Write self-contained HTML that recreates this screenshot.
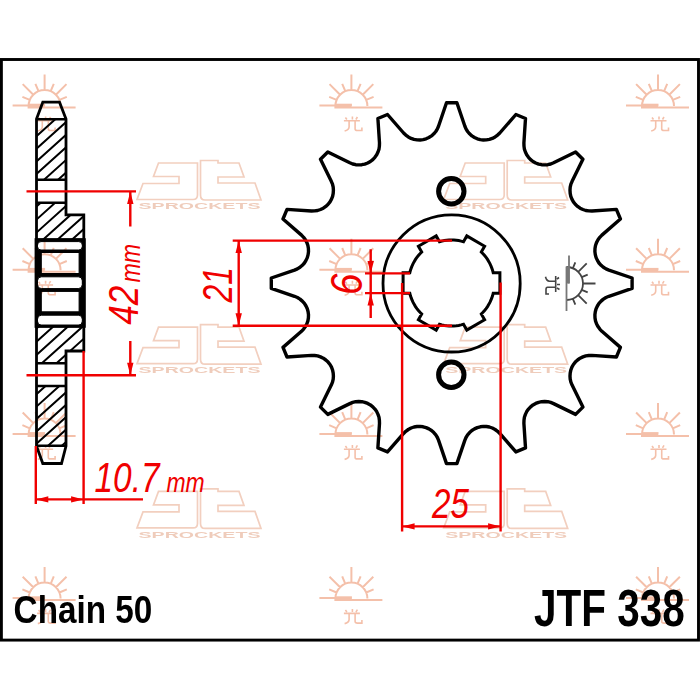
<!DOCTYPE html>
<html><head><meta charset="utf-8"><style>html,body{margin:0;padding:0;background:#fff;width:700px;height:700px;overflow:hidden}svg{display:block}</style></head>
<body><svg width="700" height="700" viewBox="0 0 700 700">
<defs><clipPath id="hc0"><rect x="36.5" y="119.3" width="29.5" height="60.5"/></clipPath><clipPath id="hc1"><rect x="36.5" y="202.8" width="29.5" height="37.2"/><rect x="66" y="214.8" width="17.8" height="25.2"/></clipPath><clipPath id="hc2"><rect x="36.5" y="326" width="29.5" height="37.2"/><rect x="66" y="326" width="17.8" height="25"/></clipPath><clipPath id="hc3"><rect x="36.5" y="386" width="29.5" height="59.8"/></clipPath></defs>
<rect width="700" height="700" fill="#fff"/>
<rect x="1.4" y="59.5" width="697.1" height="580.6" fill="#fff" stroke="#000" stroke-width="2.9"/>
<g id="profile" stroke="#000" fill="none">
<path d="M35 137.5L86 91.6 M35 150.1L86 104.2 M35 162.7L86 116.8 M35 175.3L86 129.4 M35 187.9L86 142 M35 200.5L86 154.6 M35 213.1L86 167.2" stroke-width="2" clip-path="url(#hc0)"/><path d="M35 207.9L86 162 M35 220.9L86 175 M35 233.9L86 188 M35 246.9L86 201 M35 259.9L86 214 M35 272.9L86 227" stroke-width="2" clip-path="url(#hc1)"/><path d="M35 329.8L86 283.9 M35 343L86 297.1 M35 356.2L86 310.3 M35 369.4L86 323.5 M35 382.6L86 336.7 M35 395.8L86 349.9" stroke-width="2" clip-path="url(#hc2)"/><path d="M35 395.5L86 349.6 M35 407.9L86 362 M35 420.3L86 374.4 M35 432.7L86 386.8 M35 445.1L86 399.2 M35 457.5L86 411.6 M35 469.9L86 424 M35 482.3L86 436.4" stroke-width="2" clip-path="url(#hc3)"/>
<rect x="35.1" y="238.7" width="50.1" height="88.6" fill="#000"/><rect x="37.5" y="241.6" width="44.8" height="8.4" rx="3.5" fill="#fff"/><rect x="37.5" y="276.8" width="44.8" height="11.8" rx="4" fill="#fff"/><rect x="37.5" y="315.2" width="44.8" height="10" rx="4" fill="#fff"/><rect x="41.3" y="252.5" width="37.8" height="21" fill="#fff"/><rect x="41.3" y="291.4" width="37.8" height="20.4" fill="#fff"/>
<path d="M36.5 119.3H66 M36.5 179.8H66 M36.5 202.8H66 M36.5 240H83.8 M36.5 326H83.8 M36.5 363.2H66 M36.5 386H66 M36.5 445.8H66" stroke-width="2.6"/>
<path d="M42.8 102.2H59.5L66 119V214.8H83.8V351H66V446L61.5 463.5H42.8L36.5 446V119Z" stroke-width="2.8" stroke-linejoin="miter"/>
</g>
<g id="sprocket" fill="none" stroke="#000">
<path d="M446.5 102.8 L456.9 102.8 L464.8 126 L466 128.9 L467.6 131.5 L469.6 133.8 L471.9 135.9 L474.5 137.5 L477.3 138.8 L480.3 139.6 L483.3 140 L486.4 139.9 L489.4 139.4 L492.3 138.4 L495.1 136.9 L497.6 135.1 L499.8 133 L515.9 114.5 L525.5 118.5 L523.9 143 L524 146.1 L524.4 149.1 L525.4 152 L526.7 154.8 L528.5 157.3 L530.6 159.6 L533 161.5 L535.7 163 L538.6 164.1 L541.6 164.7 L544.7 164.9 L547.7 164.7 L550.7 164 L553.6 162.8 L575.6 152 L582.9 159.3 L572.1 181.3 L570.9 184.2 L570.2 187.2 L570 190.2 L570.2 193.3 L570.8 196.3 L571.9 199.2 L573.4 201.9 L575.3 204.3 L577.6 206.4 L580.1 208.2 L582.9 209.5 L585.8 210.5 L588.8 210.9 L591.9 211 L616.4 209.4 L620.4 219 L601.9 235.1 L599.8 237.3 L598 239.8 L596.5 242.6 L595.5 245.5 L595 248.5 L594.9 251.6 L595.3 254.6 L596.1 257.6 L597.4 260.4 L599 263 L601.1 265.3 L603.4 267.3 L606 268.9 L608.9 270.1 L632.1 278 L632.1 288.4 L608.9 296.3 L606 297.5 L603.4 299.1 L601.1 301.1 L599 303.4 L597.4 306 L596.1 308.8 L595.3 311.8 L594.9 314.8 L595 317.9 L595.5 320.9 L596.5 323.8 L598 326.6 L599.8 329.1 L601.9 331.3 L620.4 347.4 L616.4 357 L591.9 355.4 L588.8 355.5 L585.8 355.9 L582.9 356.9 L580.1 358.2 L577.6 360 L575.3 362.1 L573.4 364.5 L571.9 367.2 L570.8 370.1 L570.2 373.1 L570 376.2 L570.2 379.2 L570.9 382.2 L572.1 385.1 L582.9 407.1 L575.6 414.4 L553.6 403.6 L550.7 402.4 L547.7 401.7 L544.7 401.5 L541.6 401.7 L538.6 402.3 L535.7 403.4 L533 404.9 L530.6 406.8 L528.5 409.1 L526.7 411.6 L525.4 414.4 L524.4 417.3 L524 420.3 L523.9 423.4 L525.5 447.9 L515.9 451.9 L499.8 433.4 L497.6 431.3 L495.1 429.5 L492.3 428 L489.4 427 L486.4 426.5 L483.3 426.4 L480.3 426.8 L477.3 427.6 L474.5 428.9 L471.9 430.5 L469.6 432.6 L467.6 434.9 L466 437.5 L464.8 440.4 L456.9 463.6 L446.5 463.6 L438.6 440.4 L437.4 437.5 L435.8 434.9 L433.8 432.6 L431.5 430.5 L428.9 428.9 L426.1 427.6 L423.1 426.8 L420.1 426.4 L417 426.5 L414 427 L411.1 428 L408.3 429.5 L405.8 431.3 L403.6 433.4 L387.5 451.9 L377.9 447.9 L379.5 423.4 L379.4 420.3 L379 417.3 L378 414.4 L376.7 411.6 L374.9 409.1 L372.8 406.8 L370.4 404.9 L367.7 403.4 L364.8 402.3 L361.8 401.7 L358.7 401.5 L355.7 401.7 L352.7 402.4 L349.8 403.6 L327.8 414.4 L320.5 407.1 L331.3 385.1 L332.5 382.2 L333.2 379.2 L333.4 376.2 L333.2 373.1 L332.6 370.1 L331.5 367.2 L330 364.5 L328.1 362.1 L325.8 360 L323.3 358.2 L320.5 356.9 L317.6 355.9 L314.6 355.5 L311.5 355.4 L287 357 L283 347.4 L301.5 331.3 L303.6 329.1 L305.4 326.6 L306.9 323.8 L307.9 320.9 L308.4 317.9 L308.5 314.8 L308.1 311.8 L307.3 308.8 L306 306 L304.4 303.4 L302.3 301.1 L300 299.1 L297.4 297.5 L294.5 296.3 L271.3 288.4 L271.3 278 L294.5 270.1 L297.4 268.9 L300 267.3 L302.3 265.3 L304.4 263 L306 260.4 L307.3 257.6 L308.1 254.6 L308.5 251.6 L308.4 248.5 L307.9 245.5 L306.9 242.6 L305.4 239.8 L303.6 237.3 L301.5 235.1 L283 219 L287 209.4 L311.5 211 L314.6 210.9 L317.6 210.5 L320.5 209.5 L323.3 208.2 L325.8 206.4 L328.1 204.3 L330 201.9 L331.5 199.2 L332.6 196.3 L333.2 193.3 L333.4 190.2 L333.2 187.2 L332.5 184.2 L331.3 181.3 L320.5 159.3 L327.8 152 L349.8 162.8 L352.7 164 L355.7 164.7 L358.7 164.9 L361.8 164.7 L364.8 164.1 L367.7 163 L370.4 161.5 L372.8 159.6 L374.9 157.3 L376.7 154.8 L378 152 L379 149.1 L379.4 146.1 L379.5 143 L377.9 118.5 L387.5 114.5 L403.6 133 L405.8 135.1 L408.3 136.9 L411.1 138.4 L414 139.4 L417 139.9 L420.1 140 L423.1 139.6 L426.1 138.8 L428.9 137.5 L431.5 135.9 L433.8 133.8 L435.8 131.5 L437.4 128.9 L438.6 126Z" stroke-width="3.4" stroke-linejoin="round"/>
<circle cx="451.6" cy="283.4" r="68.6" stroke-width="2.8"/>
<path d="M493.2 272.7 L499.9 272.7 L499.9 293.3 L493.2 293.3 L492.6 295.6 L491.8 297.9 L490.9 300.2 L489.9 302.4 L488.7 304.5 L487.5 306.6 L486.1 308.6 L484.6 310.5 L483 312.3 L481.3 314 L484.6 319.8 L466.8 330.1 L463.5 324.3 L461.1 324.9 L458.7 325.4 L456.3 325.7 L453.9 325.9 L451.5 326 L449.1 325.9 L446.7 325.7 L444.3 325.4 L441.9 324.9 L439.5 324.3 L436.2 330.1 L418.4 319.8 L421.7 314 L420 312.3 L418.4 310.5 L416.9 308.6 L415.5 306.6 L414.3 304.5 L413.1 302.4 L412.1 300.2 L411.2 297.9 L410.4 295.6 L409.8 293.3 L403.1 293.3 L403.1 272.7 L409.8 272.7 L410.4 270.4 L411.2 268.1 L412.1 265.8 L413.1 263.6 L414.3 261.5 L415.5 259.4 L416.9 257.4 L418.4 255.5 L420 253.7 L421.7 252 L418.4 246.2 L436.2 235.9 L439.5 241.7 L441.9 241.1 L444.3 240.6 L446.7 240.3 L449.1 240.1 L451.5 240 L453.9 240.1 L456.3 240.3 L458.7 240.6 L461.1 241.1 L463.5 241.7 L466.8 235.9 L484.6 246.2 L481.3 252 L483 253.7 L484.6 255.5 L486.1 257.4 L487.5 259.4 L488.7 261.5 L489.9 263.6 L490.9 265.8 L491.8 268.1 L492.6 270.4Z" stroke-width="3" stroke-linejoin="miter"/>
<circle cx="451.3" cy="191.3" r="12.7" stroke-width="5"/>
<circle cx="451.3" cy="374.8" r="12.7" stroke-width="5"/>
</g>
<g transform="translate(566.5 283.5) rotate(90)"><path d="M0 -16.5L0 -29 M6.3 -15.2L8.8 -21.2 M-6.3 -15.2L-8.8 -21.2 M11.7 -11.7L20.2 -20.2 M-11.7 -11.7L-20.2 -20.2 M15.2 -6.3L21.2 -8.8 M-15.2 -6.3L-21.2 -8.8 M-16.5 0A16.5 16.5 0 0 1 16.5 0" stroke="#444" stroke-width="1.8" fill="none"/><path d="M-28 -2.5H0 M-17 0H27.5" stroke="#777" stroke-width="1.8" fill="none"/><path d="M-17 -1.5H0" stroke="#777" stroke-width="2.6" fill="none"/><path d="M-6 11.5L-4.5 13.5 M1 10.5V13.5 M6 11L4.5 13.5 M-7.5 14.8H8.5 M-2.3 15V21Q-2.5 24 -6.8 25 M3.7 15V23Q3.7 24.5 6 24.5H10.5V21.5" transform="translate(0 -4)" stroke="#444" stroke-width="1.6" fill="none"/></g>
<g id="dims">
<path d="M26.5 191.4H136 M26.5 375.2H136 M130.3 191.4V226.5 M130.3 341V375.2 M35.8 446V504 M83.6 351V504 M35.8 499.4H143 M232.7 240.6H452 M232.7 325.8H452 M238.7 240.6V325.8 M365 273.4H410 M365 293.1H410 M370.7 249.3V317.9 M402.1 283V531.4 M500.6 282.4V531.4 M402.1 526.4H500.6" stroke="#f00000" stroke-width="2.4" fill="none"/>
<path d="M130.3 191.4L127.1 203.9L133.5 203.9Z M130.3 375.2L127.1 362.7L133.5 362.7Z M35.8 499.4L48.3 496.2L48.3 502.6Z M83.6 499.4L71.1 496.2L71.1 502.6Z M238.7 240.6L235.5 253.1L241.9 253.1Z M238.7 325.8L235.5 313.3L241.9 313.3Z M370.7 273.4L367.5 260.9L373.9 260.9Z M370.7 293.1L367.5 305.6L373.9 305.6Z M402.1 526.4L414.6 523.2L414.6 529.6Z M500.6 526.4L488.1 523.2L488.1 529.6Z" fill="#f00000"/>
<g fill="#f00000" font-family="Liberation Sans" font-style="italic">
<text transform="translate(137.5 324.8) rotate(-90) scale(0.84 1)" font-size="42">42</text>
<text transform="translate(139.8 282.5) rotate(-90) scale(0.86 1)" font-size="27">mm</text>
<text transform="translate(232.3 302.5) rotate(-90) scale(0.76 1)" font-size="42">21</text>
<text transform="translate(361.5 295) rotate(-90) scale(0.86 1)" font-size="45">6</text>
<text transform="translate(94.5 492) scale(0.795 1)" font-size="42">10.7</text>
<text transform="translate(166.5 492.4) scale(0.85 1)" font-size="27">mm</text>
<text transform="translate(432 517.7) scale(0.79 1)" font-size="42">25</text>
</g>
</g>
<g id="wm" style="mix-blend-mode:multiply"><g transform="translate(0 0)"><path d="M158.5 163H197.5V195Q197.5 199.5 193 199.5H137L143 183.5H179V176.5H153.5Z M200.5 160.5H218V163H239L244 177H218V183H255L261 200H205Q200.5 200 200.5 195Z" fill="none" stroke="#f2cfbf" stroke-width="1.7"/><text x="138.5" y="209.3" textLength="122" lengthAdjust="spacingAndGlyphs" font-family="Liberation Sans" font-weight="bold" font-size="9" fill="#efccbb">SPROCKETS</text></g><g transform="translate(0 164.2)"><path d="M158.5 163H197.5V195Q197.5 199.5 193 199.5H137L143 183.5H179V176.5H153.5Z M200.5 160.5H218V163H239L244 177H218V183H255L261 200H205Q200.5 200 200.5 195Z" fill="none" stroke="#f2cfbf" stroke-width="1.7"/><text x="138.5" y="209.3" textLength="122" lengthAdjust="spacingAndGlyphs" font-family="Liberation Sans" font-weight="bold" font-size="9" fill="#efccbb">SPROCKETS</text></g><g transform="translate(0 328.4)"><path d="M158.5 163H197.5V195Q197.5 199.5 193 199.5H137L143 183.5H179V176.5H153.5Z M200.5 160.5H218V163H239L244 177H218V183H255L261 200H205Q200.5 200 200.5 195Z" fill="none" stroke="#f2cfbf" stroke-width="1.7"/><text x="138.5" y="209.3" textLength="122" lengthAdjust="spacingAndGlyphs" font-family="Liberation Sans" font-weight="bold" font-size="9" fill="#efccbb">SPROCKETS</text></g><g transform="translate(306.7 0)"><path d="M158.5 163H197.5V195Q197.5 199.5 193 199.5H137L143 183.5H179V176.5H153.5Z M200.5 160.5H218V163H239L244 177H218V183H255L261 200H205Q200.5 200 200.5 195Z" fill="none" stroke="#f2cfbf" stroke-width="1.7"/><text x="138.5" y="209.3" textLength="122" lengthAdjust="spacingAndGlyphs" font-family="Liberation Sans" font-weight="bold" font-size="9" fill="#efccbb">SPROCKETS</text></g><g transform="translate(306.7 164.2)"><path d="M158.5 163H197.5V195Q197.5 199.5 193 199.5H137L143 183.5H179V176.5H153.5Z M200.5 160.5H218V163H239L244 177H218V183H255L261 200H205Q200.5 200 200.5 195Z" fill="none" stroke="#f2cfbf" stroke-width="1.7"/><text x="138.5" y="209.3" textLength="122" lengthAdjust="spacingAndGlyphs" font-family="Liberation Sans" font-weight="bold" font-size="9" fill="#efccbb">SPROCKETS</text></g><g transform="translate(306.7 328.4)"><path d="M158.5 163H197.5V195Q197.5 199.5 193 199.5H137L143 183.5H179V176.5H153.5Z M200.5 160.5H218V163H239L244 177H218V183H255L261 200H205Q200.5 200 200.5 195Z" fill="none" stroke="#f2cfbf" stroke-width="1.7"/><text x="138.5" y="209.3" textLength="122" lengthAdjust="spacingAndGlyphs" font-family="Liberation Sans" font-weight="bold" font-size="9" fill="#efccbb">SPROCKETS</text></g><g transform="translate(44.6 106)"><path d="M0 -16L0 -31.5 M6.1 -14.8L9.2 -22.2 M-6.1 -14.8L-9.2 -22.2 M11.3 -11.3L21.9 -21.9 M-11.3 -11.3L-21.9 -21.9 M14.8 -6.1L22.2 -9.2 M-14.8 -6.1L-22.2 -9.2 M-16 0A16 16 0 0 1 16 0" stroke="#f4c0aa" stroke-width="2" fill="none"/><path d="M-32 -0.5H0 M-17 1.5H31" stroke="#f4c0aa" stroke-width="2" fill="none"/><path d="M-16 -1H0.5" stroke="#f4c0aa" stroke-width="2.6" fill="none"/><path d="M-6 11.5L-4.5 13.5 M1 10.5V13.5 M6 11L4.5 13.5 M-7.5 14.8H8.5 M-2.3 15V21Q-2.5 24 -6.8 25 M3.7 15V23Q3.7 24.5 6 24.5H10.5V21.5" transform="translate(0 0)" stroke="#f4c0aa" stroke-width="1.6" fill="none"/></g><g transform="translate(44.6 270.2)"><path d="M0 -16L0 -31.5 M6.1 -14.8L9.2 -22.2 M-6.1 -14.8L-9.2 -22.2 M11.3 -11.3L21.9 -21.9 M-11.3 -11.3L-21.9 -21.9 M14.8 -6.1L22.2 -9.2 M-14.8 -6.1L-22.2 -9.2 M-16 0A16 16 0 0 1 16 0" stroke="#f4c0aa" stroke-width="2" fill="none"/><path d="M-32 -0.5H0 M-17 1.5H31" stroke="#f4c0aa" stroke-width="2" fill="none"/><path d="M-16 -1H0.5" stroke="#f4c0aa" stroke-width="2.6" fill="none"/><path d="M-6 11.5L-4.5 13.5 M1 10.5V13.5 M6 11L4.5 13.5 M-7.5 14.8H8.5 M-2.3 15V21Q-2.5 24 -6.8 25 M3.7 15V23Q3.7 24.5 6 24.5H10.5V21.5" transform="translate(0 0)" stroke="#f4c0aa" stroke-width="1.6" fill="none"/></g><g transform="translate(44.6 434.4)"><path d="M0 -16L0 -31.5 M6.1 -14.8L9.2 -22.2 M-6.1 -14.8L-9.2 -22.2 M11.3 -11.3L21.9 -21.9 M-11.3 -11.3L-21.9 -21.9 M14.8 -6.1L22.2 -9.2 M-14.8 -6.1L-22.2 -9.2 M-16 0A16 16 0 0 1 16 0" stroke="#f4c0aa" stroke-width="2" fill="none"/><path d="M-32 -0.5H0 M-17 1.5H31" stroke="#f4c0aa" stroke-width="2" fill="none"/><path d="M-16 -1H0.5" stroke="#f4c0aa" stroke-width="2.6" fill="none"/><path d="M-6 11.5L-4.5 13.5 M1 10.5V13.5 M6 11L4.5 13.5 M-7.5 14.8H8.5 M-2.3 15V21Q-2.5 24 -6.8 25 M3.7 15V23Q3.7 24.5 6 24.5H10.5V21.5" transform="translate(0 0)" stroke="#f4c0aa" stroke-width="1.6" fill="none"/></g><g transform="translate(44.6 598.6)"><path d="M0 -16L0 -31.5 M6.1 -14.8L9.2 -22.2 M-6.1 -14.8L-9.2 -22.2 M11.3 -11.3L21.9 -21.9 M-11.3 -11.3L-21.9 -21.9 M14.8 -6.1L22.2 -9.2 M-14.8 -6.1L-22.2 -9.2 M-16 0A16 16 0 0 1 16 0" stroke="#f4c0aa" stroke-width="2" fill="none"/><path d="M-32 -0.5H0 M-17 1.5H31" stroke="#f4c0aa" stroke-width="2" fill="none"/><path d="M-16 -1H0.5" stroke="#f4c0aa" stroke-width="2.6" fill="none"/><path d="M-6 11.5L-4.5 13.5 M1 10.5V13.5 M6 11L4.5 13.5 M-7.5 14.8H8.5 M-2.3 15V21Q-2.5 24 -6.8 25 M3.7 15V23Q3.7 24.5 6 24.5H10.5V21.5" transform="translate(0 0)" stroke="#f4c0aa" stroke-width="1.6" fill="none"/></g><g transform="translate(351.4 106)"><path d="M0 -16L0 -31.5 M6.1 -14.8L9.2 -22.2 M-6.1 -14.8L-9.2 -22.2 M11.3 -11.3L21.9 -21.9 M-11.3 -11.3L-21.9 -21.9 M14.8 -6.1L22.2 -9.2 M-14.8 -6.1L-22.2 -9.2 M-16 0A16 16 0 0 1 16 0" stroke="#f4c0aa" stroke-width="2" fill="none"/><path d="M-32 -0.5H0 M-17 1.5H31" stroke="#f4c0aa" stroke-width="2" fill="none"/><path d="M-16 -1H0.5" stroke="#f4c0aa" stroke-width="2.6" fill="none"/><path d="M-6 11.5L-4.5 13.5 M1 10.5V13.5 M6 11L4.5 13.5 M-7.5 14.8H8.5 M-2.3 15V21Q-2.5 24 -6.8 25 M3.7 15V23Q3.7 24.5 6 24.5H10.5V21.5" transform="translate(0 0)" stroke="#f4c0aa" stroke-width="1.6" fill="none"/></g><g transform="translate(351.4 270.2)"><path d="M0 -16L0 -31.5 M6.1 -14.8L9.2 -22.2 M-6.1 -14.8L-9.2 -22.2 M11.3 -11.3L21.9 -21.9 M-11.3 -11.3L-21.9 -21.9 M14.8 -6.1L22.2 -9.2 M-14.8 -6.1L-22.2 -9.2 M-16 0A16 16 0 0 1 16 0" stroke="#f4c0aa" stroke-width="2" fill="none"/><path d="M-32 -0.5H0 M-17 1.5H31" stroke="#f4c0aa" stroke-width="2" fill="none"/><path d="M-16 -1H0.5" stroke="#f4c0aa" stroke-width="2.6" fill="none"/><path d="M-6 11.5L-4.5 13.5 M1 10.5V13.5 M6 11L4.5 13.5 M-7.5 14.8H8.5 M-2.3 15V21Q-2.5 24 -6.8 25 M3.7 15V23Q3.7 24.5 6 24.5H10.5V21.5" transform="translate(0 0)" stroke="#f4c0aa" stroke-width="1.6" fill="none"/></g><g transform="translate(351.4 434.4)"><path d="M0 -16L0 -31.5 M6.1 -14.8L9.2 -22.2 M-6.1 -14.8L-9.2 -22.2 M11.3 -11.3L21.9 -21.9 M-11.3 -11.3L-21.9 -21.9 M14.8 -6.1L22.2 -9.2 M-14.8 -6.1L-22.2 -9.2 M-16 0A16 16 0 0 1 16 0" stroke="#f4c0aa" stroke-width="2" fill="none"/><path d="M-32 -0.5H0 M-17 1.5H31" stroke="#f4c0aa" stroke-width="2" fill="none"/><path d="M-16 -1H0.5" stroke="#f4c0aa" stroke-width="2.6" fill="none"/><path d="M-6 11.5L-4.5 13.5 M1 10.5V13.5 M6 11L4.5 13.5 M-7.5 14.8H8.5 M-2.3 15V21Q-2.5 24 -6.8 25 M3.7 15V23Q3.7 24.5 6 24.5H10.5V21.5" transform="translate(0 0)" stroke="#f4c0aa" stroke-width="1.6" fill="none"/></g><g transform="translate(351.4 598.6)"><path d="M0 -16L0 -31.5 M6.1 -14.8L9.2 -22.2 M-6.1 -14.8L-9.2 -22.2 M11.3 -11.3L21.9 -21.9 M-11.3 -11.3L-21.9 -21.9 M14.8 -6.1L22.2 -9.2 M-14.8 -6.1L-22.2 -9.2 M-16 0A16 16 0 0 1 16 0" stroke="#f4c0aa" stroke-width="2" fill="none"/><path d="M-32 -0.5H0 M-17 1.5H31" stroke="#f4c0aa" stroke-width="2" fill="none"/><path d="M-16 -1H0.5" stroke="#f4c0aa" stroke-width="2.6" fill="none"/><path d="M-6 11.5L-4.5 13.5 M1 10.5V13.5 M6 11L4.5 13.5 M-7.5 14.8H8.5 M-2.3 15V21Q-2.5 24 -6.8 25 M3.7 15V23Q3.7 24.5 6 24.5H10.5V21.5" transform="translate(0 0)" stroke="#f4c0aa" stroke-width="1.6" fill="none"/></g><g transform="translate(658 106)"><path d="M0 -16L0 -31.5 M6.1 -14.8L9.2 -22.2 M-6.1 -14.8L-9.2 -22.2 M11.3 -11.3L21.9 -21.9 M-11.3 -11.3L-21.9 -21.9 M14.8 -6.1L22.2 -9.2 M-14.8 -6.1L-22.2 -9.2 M-16 0A16 16 0 0 1 16 0" stroke="#f4c0aa" stroke-width="2" fill="none"/><path d="M-32 -0.5H0 M-17 1.5H31" stroke="#f4c0aa" stroke-width="2" fill="none"/><path d="M-16 -1H0.5" stroke="#f4c0aa" stroke-width="2.6" fill="none"/><path d="M-6 11.5L-4.5 13.5 M1 10.5V13.5 M6 11L4.5 13.5 M-7.5 14.8H8.5 M-2.3 15V21Q-2.5 24 -6.8 25 M3.7 15V23Q3.7 24.5 6 24.5H10.5V21.5" transform="translate(0 0)" stroke="#f4c0aa" stroke-width="1.6" fill="none"/></g><g transform="translate(658 270.2)"><path d="M0 -16L0 -31.5 M6.1 -14.8L9.2 -22.2 M-6.1 -14.8L-9.2 -22.2 M11.3 -11.3L21.9 -21.9 M-11.3 -11.3L-21.9 -21.9 M14.8 -6.1L22.2 -9.2 M-14.8 -6.1L-22.2 -9.2 M-16 0A16 16 0 0 1 16 0" stroke="#f4c0aa" stroke-width="2" fill="none"/><path d="M-32 -0.5H0 M-17 1.5H31" stroke="#f4c0aa" stroke-width="2" fill="none"/><path d="M-16 -1H0.5" stroke="#f4c0aa" stroke-width="2.6" fill="none"/><path d="M-6 11.5L-4.5 13.5 M1 10.5V13.5 M6 11L4.5 13.5 M-7.5 14.8H8.5 M-2.3 15V21Q-2.5 24 -6.8 25 M3.7 15V23Q3.7 24.5 6 24.5H10.5V21.5" transform="translate(0 0)" stroke="#f4c0aa" stroke-width="1.6" fill="none"/></g><g transform="translate(658 434.4)"><path d="M0 -16L0 -31.5 M6.1 -14.8L9.2 -22.2 M-6.1 -14.8L-9.2 -22.2 M11.3 -11.3L21.9 -21.9 M-11.3 -11.3L-21.9 -21.9 M14.8 -6.1L22.2 -9.2 M-14.8 -6.1L-22.2 -9.2 M-16 0A16 16 0 0 1 16 0" stroke="#f4c0aa" stroke-width="2" fill="none"/><path d="M-32 -0.5H0 M-17 1.5H31" stroke="#f4c0aa" stroke-width="2" fill="none"/><path d="M-16 -1H0.5" stroke="#f4c0aa" stroke-width="2.6" fill="none"/><path d="M-6 11.5L-4.5 13.5 M1 10.5V13.5 M6 11L4.5 13.5 M-7.5 14.8H8.5 M-2.3 15V21Q-2.5 24 -6.8 25 M3.7 15V23Q3.7 24.5 6 24.5H10.5V21.5" transform="translate(0 0)" stroke="#f4c0aa" stroke-width="1.6" fill="none"/></g><g transform="translate(658 598.6)"><path d="M0 -16L0 -31.5 M6.1 -14.8L9.2 -22.2 M-6.1 -14.8L-9.2 -22.2 M11.3 -11.3L21.9 -21.9 M-11.3 -11.3L-21.9 -21.9 M14.8 -6.1L22.2 -9.2 M-14.8 -6.1L-22.2 -9.2 M-16 0A16 16 0 0 1 16 0" stroke="#f4c0aa" stroke-width="2" fill="none"/><path d="M-32 -0.5H0 M-17 1.5H31" stroke="#f4c0aa" stroke-width="2" fill="none"/><path d="M-16 -1H0.5" stroke="#f4c0aa" stroke-width="2.6" fill="none"/><path d="M-6 11.5L-4.5 13.5 M1 10.5V13.5 M6 11L4.5 13.5 M-7.5 14.8H8.5 M-2.3 15V21Q-2.5 24 -6.8 25 M3.7 15V23Q3.7 24.5 6 24.5H10.5V21.5" transform="translate(0 0)" stroke="#f4c0aa" stroke-width="1.6" fill="none"/></g></g>
<g font-family="Liberation Sans" font-weight="bold" fill="#000">
<text transform="translate(13.6 623.4) scale(0.854 1)" font-size="39">Chain 50</text>
<text transform="translate(534 626) scale(0.786 1)" font-size="51.5">JTF 338</text>
</g>
</svg></body></html>
